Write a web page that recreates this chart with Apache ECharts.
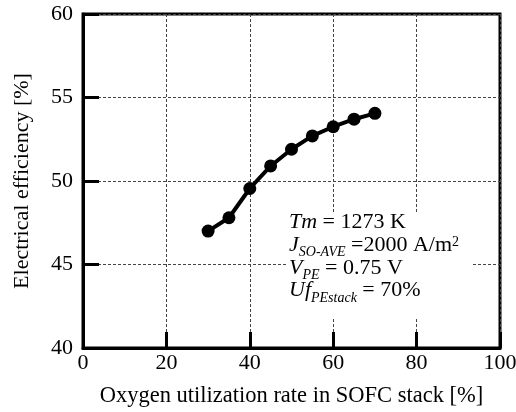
<!DOCTYPE html>
<html>
<head>
<meta charset="utf-8">
<script src="https://cdn.jsdelivr.net/npm/echarts@6/dist/echarts.min.js"></script>
<style>
html,body{margin:0;padding:0;background:#fff;}
#chart{width:516px;height:412px;}
</style>
</head>
<body>
<div id="chart"></div>
<script>
var oxygenUtilization = [30, 35, 40, 45, 50, 55, 60, 65, 70];
var electricalEfficiency = [47.0, 47.8, 49.55, 50.9, 51.9, 52.7, 53.25, 53.7, 54.05];
var xTicks = [0, 20, 40, 60, 80, 100];
var yTicks = [40, 45, 50, 55, 60];
var xAxisTitle = 'Oxygen utilization rate in SOFC stack [%]';
var yAxisTitle = 'Electrical efficiency [%]';

var FONT = '"Liberation Serif", "Times New Roman", serif';
var chart = echarts.init(document.getElementById('chart'), null, {renderer: 'canvas'});

var seriesData = oxygenUtilization.map(function (x, i) { return [x, electricalEfficiency[i]]; });

var mainSz = 22, subSz = 14, LH = 22.7;
var rich = {
  n: {fontFamily: FONT, fontSize: mainSz, color: '#000', lineHeight: LH},
  i: {fontFamily: FONT, fontSize: mainSz, fontStyle: 'italic', color: '#000', lineHeight: LH},
  s: {fontFamily: FONT, fontSize: subSz, fontStyle: 'italic', color: '#000', lineHeight: LH, padding: [15, 0, 0, 0]},
  p: {fontFamily: FONT, fontSize: subSz, color: '#000', lineHeight: LH, padding: [0, 0, 5, 0]}
};
var annotation = [
  '{i|Tm}{n| = 1273 K}',
  '{i|J}{s|SO-AVE}{n| =2000 A/m}{p|2}',
  '{i|V}{s|PE}{n| = 0.75 V}',
  '{i|Uf}{s|PEstack}{n| = 70%}'
].join('\n');

var option = {
  backgroundColor: '#fff',
  animation: false,
  grid: {left: 83, right: 16, top: 14, bottom: 64, containLabel: false, outerBoundsMode: 'none',
         show: true, borderColor: '#000', borderWidth: 3, backgroundColor: 'transparent'},
  xAxis: {
    type: 'value', min: xTicks[0], max: xTicks[xTicks.length - 1], interval: 20,
    name: xAxisTitle, nameLocation: 'middle', nameGap: 37,
    nameTextStyle: {fontFamily: FONT, fontSize: 22.5, color: '#000'},
    axisLine: {show: true, lineStyle: {color: '#000', width: 3}},
    axisTick: {show: true, inside: true, length: 16, lineStyle: {color: '#000', width: 3}},
    axisLabel: {fontFamily: FONT, fontSize: 22, color: '#000', margin: 4, hideOverlap: false},
    splitLine: {show: true, lineStyle: {color: '#444', width: 1, type: [3, 2]}}
  },
  yAxis: {
    type: 'value', min: yTicks[0], max: yTicks[yTicks.length - 1], interval: 5,
    name: yAxisTitle, nameLocation: 'middle', nameGap: 50,
    nameTextStyle: {fontFamily: FONT, fontSize: 22, color: '#000'},
    axisLine: {show: true, lineStyle: {color: '#000', width: 3}},
    axisTick: {show: true, inside: true, length: 16, lineStyle: {color: '#000', width: 3}},
    axisLabel: {fontFamily: FONT, fontSize: 22, color: '#000', margin: 10, hideOverlap: false},
    splitLine: {show: true, lineStyle: {color: '#444', width: 1, type: [3, 2]}}
  },
  graphic: [
    {type: 'rect', z: 50, shape: {x: 287, y: 213, width: 186, height: 104}, style: {fill: '#fff'}},
    {type: 'text', z: 51, x: 289, y: 211, style: {text: annotation, rich: rich, verticalAlign: 'top', align: 'left'}}
  ],
  series: [{
    type: 'line', data: seriesData, z: 10,
    lineStyle: {color: '#000', width: 4},
    itemStyle: {color: '#000'},
    symbol: 'circle', symbolSize: 13, showSymbol: true
  }]
};
chart.setOption(option);
</script>
</body>
</html>
